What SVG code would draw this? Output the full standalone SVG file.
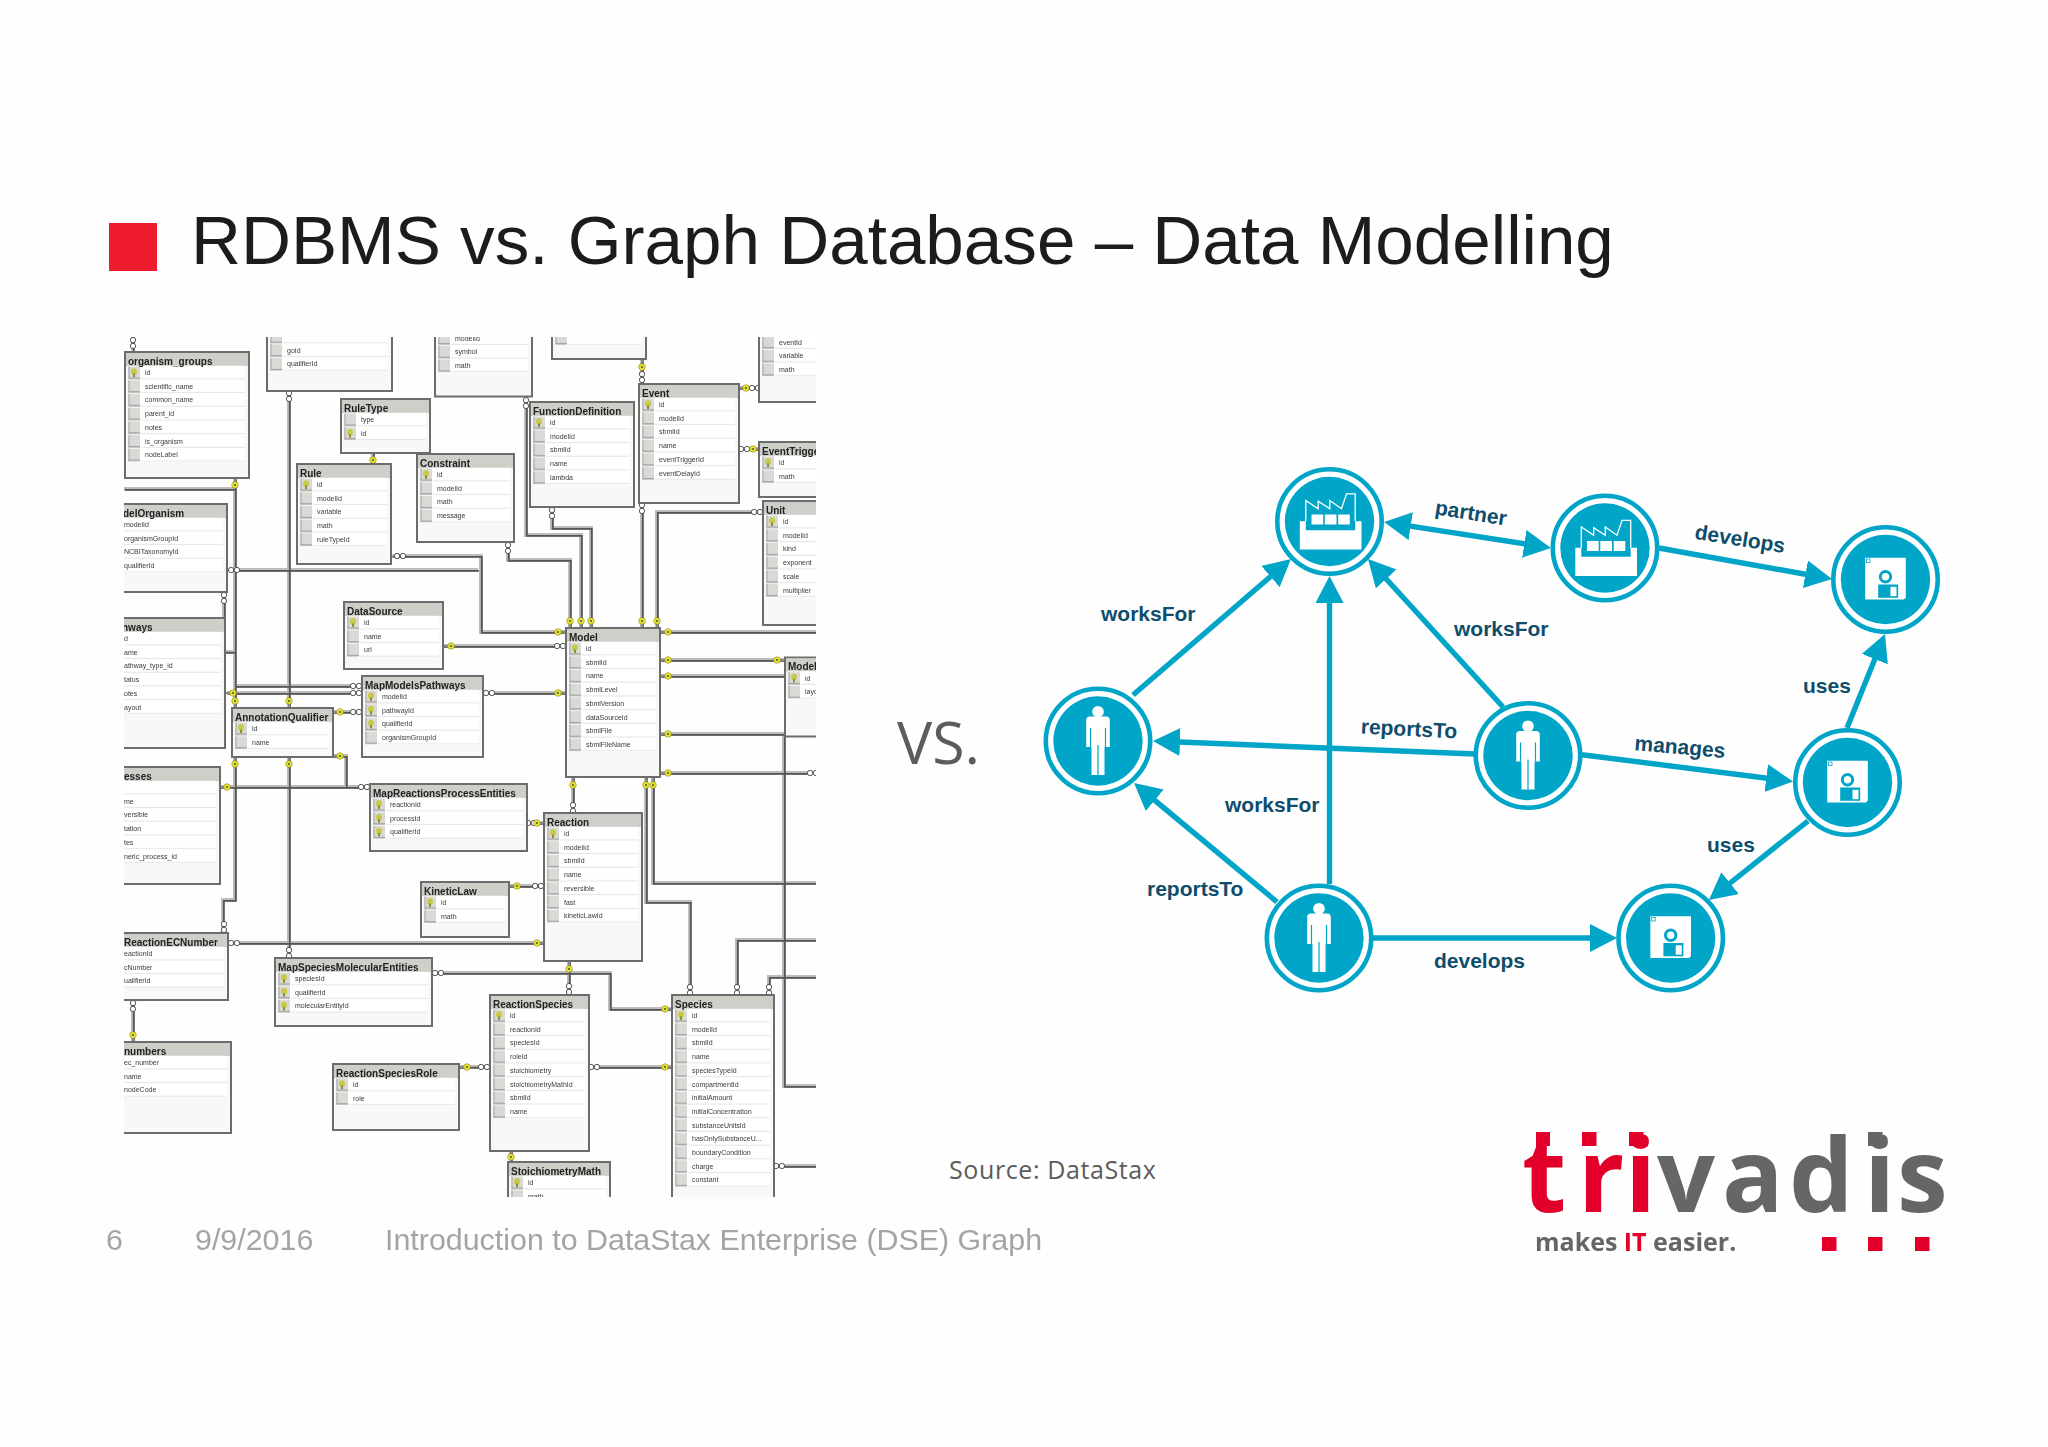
<svg xmlns="http://www.w3.org/2000/svg" width="2048" height="1447" viewBox="0 0 2048 1447">
<style>
text{font-family:"Liberation Sans",Arial,sans-serif}
.ttl{font-size:69.200px;fill:#1c1c1c}
.ft{font-size:30.400px;fill:#a4a4a4}
.os{font-family:"Open Sans",sans-serif;fill:#5c5c5c}
.f{fill:#f8f8f8;stroke:#6c6c6c;stroke-width:2}
.h{fill:#cfcfc9}
.t text{font-size:7px;fill:#3a3a3a}
.t text.tt{font-size:10px;font-weight:bold;fill:#222;transform:translate(0,.6px)}
.wl{fill:none;stroke:#bdbdbd;stroke-width:4}
.wd{fill:none;stroke:#555;stroke-width:1.8}
.e{fill:none;stroke:#00a5c8;stroke-width:5.4}
.ring{fill:#fff;stroke:#00a5c8;stroke-width:4.6}
.disc{fill:#00a5c8}
.lb{font-size:21px;font-weight:bold;fill:#0e4d6c}
.w{fill:#fff}
.gl{fill:none;stroke:#00a5c8}
</style>
<defs>
<clipPath id="er"><rect x="124" y="337" width="692" height="860"/></clipPath>
<filter id="soft" x="0" y="0" width="100%" height="100%"><feGaussianBlur stdDeviation=".35"/></filter>
<pattern id="rw" patternUnits="userSpaceOnUse" x="0" y="13.7" width="400" height="13.7">
<rect width="400" height="13.7" fill="#fff"/>
<rect x="16" y="12.6" width="384" height="1.1" fill="#e6e6e6"/>
<rect x="3.5" y=".7" width="11.5" height="12.3" fill="#d9d9d5"/>
<rect x="3.5" y="12.2" width="11.5" height=".9" fill="#777"/>
<rect x="3.5" y=".7" width=".9" height="12.3" fill="#999"/>
</pattern>
<g id="k"><ellipse cy="-1" rx="3" ry="3.2" fill="#c9c94a"/><rect x="-1" y="1" width="2" height="3.5" fill="#8f8f30"/></g>
<g id="ky"><path d="M-7 0H0" stroke="#888" stroke-width="2"/><circle r="3.3" fill="#e6e62e" stroke="#8a8a20" stroke-width=".6"/><circle r="1.1" fill="#555"/></g>
<g id="inf" fill="#fff" stroke="#444" stroke-width=".9"><circle cx="-2.9" r="2.7"/><circle cx="2.9" r="2.7"/></g>
<marker id="ah" markerUnits="userSpaceOnUse" markerWidth="28" markerHeight="28" refX="7" refY="14" orient="auto-start-reverse"><path d="M0 0L27 14L0 28Z" fill="#00a5c8"/></marker>
<g id="person"><circle cy="-29.3" r="5.8" class="w"/><path class="w" d="M-8-24.5H8Q11.8-24.5 11.8-21V6H6.5V34H-6.5V6H-11.8V-21Q-11.8-24.5-8-24.5Z"/><path class="gl" stroke-width="1.2" d="M-7.5-13V6M7.5-13V6M0 4V34"/></g>
<g id="factory"><path class="w" d="M-29.7-.3H-23.7V8.7H25.7V-.3H32V28H-29.7Z"/><path d="M-23.7-.3V-21L-11.3-12.7V-20.3L.3-12.7V-21L12-12.7L17-27.7H25.7V-.3" fill="none" stroke="#fff" stroke-width="1.3"/><path class="w" d="M-18-7H-6.300V3H-18ZM-4.700-7H7V3H-4.700ZM8.700-7H20.300V3H8.700Z"/></g>
<g id="disk"><path class="w" d="M-20.300-21.700H20.300V18L18.300 20H-20.300Z"/><rect x="-19" y="-20.500" width="3.500" height="3.500" fill="none" stroke="#00a5c8" stroke-width=".8"/><circle cy="-2.700" r="5.200" fill="none" stroke="#00a5c8" stroke-width="3"/><rect x="-7.300" y="5" width="20" height="13.300" fill="#00a5c8"/><rect x="5" y="7.300" width="6" height="9.400" class="w"/></g>
<g id="nd"><circle r="52.200" class="ring"/><circle r="44.700" class="disc"/></g>
</defs>
<rect id="bg" width="2048" height="1447" fill="#fefefe"/>
<rect x="109" y="223" width="48" height="48" fill="#ee1c2e"/>
<text class="ttl" x="191" y="264">RDBMS vs. Graph Database – Data Modelling</text>
<g clip-path="url(#er)"><g filter="url(#soft)">
<rect x="124" y="337" width="692" height="860" fill="#fefefe"/>
<g id="connectors">
<g class="wl"><g id="wires">
<path d="M133 337V352"/>
<path d="M124 489H235"/>
<path d="M235 478V708"/>
<path d="M235 757V900H223V933"/>
<path d="M289 391V708"/>
<path d="M289 757V958"/>
<path d="M238 570H478"/>
<path d="M392 556H481V632H566"/>
<path d="M235 686H352"/>
<path d="M227 693H352"/>
<path d="M225 652H235"/>
<path d="M333 712H362"/>
<path d="M224 592V618"/>
<path d="M373 453V464"/>
<path d="M443 646H566"/>
<path d="M484 693H566"/>
<path d="M508 542V560H570V628"/>
<path d="M526 397V535H581V628"/>
<path d="M552 507V528H591V628"/>
<path d="M642 503V628"/>
<path d="M763 512H657V628"/>
<path d="M642 359V384"/>
<path d="M739 388H759"/>
<path d="M739 449H759"/>
<path d="M660 632H816"/>
<path d="M660 660H785"/>
<path d="M660 676H785"/>
<path d="M660 734H816"/>
<path d="M660 773H810"/>
<path d="M573 777V813"/>
<path d="M646 777V902H690V995"/>
<path d="M653 777V883H816"/>
<path d="M784 736V1086H816"/>
<path d="M816 940H737V995"/>
<path d="M816 977H769V995"/>
<path d="M774 1166H816"/>
<path d="M527 823H544"/>
<path d="M509 886H544"/>
<path d="M228 943H544"/>
<path d="M569 961V995"/>
<path d="M432 973H610V1009H672"/>
<path d="M589 1067H672"/>
<path d="M459 1067H490"/>
<path d="M511 1151V1162"/>
<path d="M133 1000V1042"/>
<path d="M220 787H370"/>
<path d="M333 756H346V787"/>
</g></g>
<use href="#wires" class="wd" transform="translate(.8,.8)"/>
<g id="ends">
<use href="#inf" transform="translate(133,343) rotate(90)"/>
<use href="#ky" transform="translate(235,485) rotate(90)"/>
<use href="#ky" transform="translate(235,701) rotate(-90)"/>
<use href="#ky" transform="translate(235,764) rotate(90)"/>
<use href="#ky" transform="translate(289,701) rotate(-90)"/>
<use href="#ky" transform="translate(289,764) rotate(90)"/>
<use href="#inf" transform="translate(289,396) rotate(90)"/>
<use href="#inf" transform="translate(289,953) rotate(90)"/>
<use href="#inf" transform="translate(224,927) rotate(90)"/>
<use href="#inf" transform="translate(400,556)"/>
<use href="#inf" transform="translate(234,570)"/>
<use href="#inf" transform="translate(356,686)"/>
<use href="#inf" transform="translate(356,693)"/>
<use href="#inf" transform="translate(356,712)"/>
<use href="#ky" transform="translate(233,693)"/>
<use href="#ky" transform="translate(340,712)"/>
<use href="#inf" transform="translate(224,598) rotate(90)"/>
<use href="#ky" transform="translate(373,460) rotate(-90)"/>
<use href="#ky" transform="translate(451,646)"/>
<use href="#inf" transform="translate(560,646)"/>
<use href="#inf" transform="translate(489,693)"/>
<use href="#ky" transform="translate(558,693) rotate(180)"/>
<use href="#ky" transform="translate(558,632) rotate(180)"/>
<use href="#inf" transform="translate(508,548) rotate(90)"/>
<use href="#inf" transform="translate(526,403) rotate(90)"/>
<use href="#inf" transform="translate(552,513) rotate(90)"/>
<use href="#inf" transform="translate(642,508) rotate(90)"/>
<use href="#inf" transform="translate(757,512)"/>
<use href="#ky" transform="translate(570,621) rotate(-90)"/>
<use href="#ky" transform="translate(581,621) rotate(-90)"/>
<use href="#ky" transform="translate(591,621) rotate(-90)"/>
<use href="#ky" transform="translate(642,621) rotate(-90)"/>
<use href="#ky" transform="translate(657,621) rotate(-90)"/>
<use href="#ky" transform="translate(642,367) rotate(90)"/>
<use href="#inf" transform="translate(642,377) rotate(90)"/>
<use href="#ky" transform="translate(746,388)"/>
<use href="#inf" transform="translate(755,388)"/>
<use href="#inf" transform="translate(744,449)"/>
<use href="#ky" transform="translate(753,449) rotate(180)"/>
<use href="#ky" transform="translate(668,632)"/>
<use href="#ky" transform="translate(668,660)"/>
<use href="#ky" transform="translate(777,660) rotate(180)"/>
<use href="#ky" transform="translate(668,676)"/>
<use href="#ky" transform="translate(668,734)"/>
<use href="#ky" transform="translate(668,773)"/>
<use href="#inf" transform="translate(813,773)"/>
<use href="#ky" transform="translate(573,785) rotate(90)"/>
<use href="#inf" transform="translate(573,808) rotate(90)"/>
<use href="#ky" transform="translate(646,785) rotate(90)"/>
<use href="#ky" transform="translate(653,785) rotate(90)"/>
<use href="#inf" transform="translate(690,990) rotate(90)"/>
<use href="#inf" transform="translate(737,990) rotate(90)"/>
<use href="#inf" transform="translate(769,990) rotate(90)"/>
<use href="#inf" transform="translate(779,1166)"/>
<use href="#inf" transform="translate(531,823)"/>
<use href="#ky" transform="translate(537,823) rotate(180)"/>
<use href="#ky" transform="translate(517,886)"/>
<use href="#inf" transform="translate(538,886)"/>
<use href="#ky" transform="translate(537,943) rotate(180)"/>
<use href="#inf" transform="translate(234,943)"/>
<use href="#ky" transform="translate(569,969) rotate(90)"/>
<use href="#inf" transform="translate(569,989) rotate(90)"/>
<use href="#inf" transform="translate(438,973)"/>
<use href="#ky" transform="translate(665,1009) rotate(180)"/>
<use href="#inf" transform="translate(594,1067)"/>
<use href="#ky" transform="translate(665,1067) rotate(180)"/>
<use href="#inf" transform="translate(484,1067)"/>
<use href="#ky" transform="translate(467,1067)"/>
<use href="#ky" transform="translate(511,1157) rotate(90)"/>
<use href="#inf" transform="translate(133,1006) rotate(90)"/>
<use href="#ky" transform="translate(133,1035) rotate(-90)"/>
<use href="#ky" transform="translate(227,787)"/>
<use href="#inf" transform="translate(364,787)"/>
<use href="#ky" transform="translate(340,756)"/>
</g>
</g>
<g class="t">
<g id="organism_groups" transform="translate(125,352)"><rect class="f" width="124" height="126"/><rect class="h" x="1" y="1" width="122" height="13"/><rect x="3" y="13.700" width="117" height="95.900" fill="url(#rw)"/><text class="tt" x="3" y="12">organism_groups</text><use href="#k" x="9" y="20.500"/><text x="20" y="23">id</text><text x="20" y="36.700">scientific_name</text><text x="20" y="50.400">common_name</text><text x="20" y="64.100">parent_id</text><text x="20" y="77.800">notes</text><text x="20" y="91.500">is_organism</text><text x="20" y="105.200">nodeLabel</text></g>
<g id="goTable" transform="translate(267,316)"><rect class="f" width="125" height="75"/><rect x="3" y="13.700" width="118" height="41.100" fill="url(#rw)"/><text x="20" y="36.700">goId</text><text x="20" y="50.400">qualifierId</text></g>
<g id="symbolTable" transform="translate(435,317.500)"><rect class="f" width="97" height="79"/><rect x="3" y="13.700" width="90" height="41.100" fill="url(#rw)"/><text x="20" y="23">modelId</text><text x="20" y="36.700">symbol</text><text x="20" y="50.400">math</text></g>
<g id="RuleType" transform="translate(341,399)"><rect class="f" width="89" height="54"/><rect class="h" x="1" y="1" width="87" height="13"/><rect x="3" y="13.700" width="82" height="27.400" fill="url(#rw)"/><text class="tt" x="3" y="12">RuleType</text><text x="20" y="23">type</text><use href="#k" x="9" y="34.200"/><text x="20" y="36.700">id</text></g>
<g id="Rule" transform="translate(297,464)"><rect class="f" width="94" height="100"/><rect class="h" x="1" y="1" width="92" height="13"/><rect x="3" y="13.700" width="87" height="68.500" fill="url(#rw)"/><text class="tt" x="3" y="12">Rule</text><use href="#k" x="9" y="20.500"/><text x="20" y="23">id</text><text x="20" y="36.700">modelId</text><text x="20" y="50.400">variable</text><text x="20" y="64.100">math</text><text x="20" y="77.800">ruleTypeId</text></g>
<g id="Constraint" transform="translate(417,454)"><rect class="f" width="97" height="88"/><rect class="h" x="1" y="1" width="95" height="13"/><rect x="3" y="13.700" width="90" height="54.800" fill="url(#rw)"/><text class="tt" x="3" y="12">Constraint</text><use href="#k" x="9" y="20.500"/><text x="20" y="23">id</text><text x="20" y="36.700">modelId</text><text x="20" y="50.400">math</text><text x="20" y="64.100">message</text></g>
<g id="FunctionDefinition" transform="translate(530,402)"><rect class="f" width="104" height="105"/><rect class="h" x="1" y="1" width="102" height="13"/><rect x="3" y="13.700" width="97" height="68.500" fill="url(#rw)"/><text class="tt" x="3" y="12">FunctionDefinition</text><use href="#k" x="9" y="20.500"/><text x="20" y="23">id</text><text x="20" y="36.700">modelId</text><text x="20" y="50.400">sbmlId</text><text x="20" y="64.100">name</text><text x="20" y="77.800">lambda</text></g>
<g id="topMid" transform="translate(552,317.500)"><rect class="f" width="94" height="41.500"/><rect x="3" y="13.700" width="87" height="13.700" fill="url(#rw)"/></g>
<g id="Event" transform="translate(639,384)"><rect class="f" width="100" height="119"/><rect class="h" x="1" y="1" width="98" height="13"/><rect x="3" y="13.700" width="93" height="82.200" fill="url(#rw)"/><text class="tt" x="3" y="12">Event</text><use href="#k" x="9" y="20.500"/><text x="20" y="23">id</text><text x="20" y="36.700">modelId</text><text x="20" y="50.400">sbmlId</text><text x="20" y="64.100">name</text><text x="20" y="77.800">eventTriggerId</text><text x="20" y="91.500">eventDelayId</text></g>
<g id="topRight" transform="translate(759,321.500)"><rect class="f" width="80" height="80.500"/><rect x="3" y="13.700" width="80" height="41.100" fill="url(#rw)"/><text x="20" y="23">eventId</text><text x="20" y="36.700">variable</text><text x="20" y="50.400">math</text></g>
<g id="EventTrigger" transform="translate(759,442)"><rect class="f" width="80" height="55"/><rect class="h" x="1" y="1" width="78" height="13"/><rect x="3" y="13.700" width="80" height="27.400" fill="url(#rw)"/><text class="tt" x="3" y="12">EventTrigge</text><use href="#k" x="9" y="20.500"/><text x="20" y="23">id</text><text x="20" y="36.700">math</text></g>
<g id="Unit" transform="translate(763,501)"><rect class="f" width="80" height="124"/><rect class="h" x="1" y="1" width="78" height="13"/><rect x="3" y="13.700" width="80" height="82.200" fill="url(#rw)"/><text class="tt" x="3" y="12">Unit</text><use href="#k" x="9" y="20.500"/><text x="20" y="23">id</text><text x="20" y="36.700">modelId</text><text x="20" y="50.400">kind</text><text x="20" y="64.100">exponent</text><text x="20" y="77.800">scale</text><text x="20" y="91.500">multiplier</text></g>
<g id="Model" transform="translate(566,628)"><rect class="f" width="94" height="149"/><rect class="h" x="1" y="1" width="92" height="13"/><rect x="3" y="13.700" width="87" height="109.600" fill="url(#rw)"/><text class="tt" x="3" y="12">Model</text><use href="#k" x="9" y="20.500"/><text x="20" y="23">id</text><text x="20" y="36.700">sbmlId</text><text x="20" y="50.400">name</text><text x="20" y="64.100">sbmlLevel</text><text x="20" y="77.800">sbmlVersion</text><text x="20" y="91.500">dataSourceId</text><text x="20" y="105.200">sbmlFile</text><text x="20" y="118.900">sbmlFileName</text></g>
<g id="ModelLayout" transform="translate(785,657.500)"><rect class="f" width="60" height="79"/><rect class="h" x="1" y="1" width="58" height="13"/><rect x="3" y="13.700" width="60" height="27.400" fill="url(#rw)"/><text class="tt" x="3" y="12">Model</text><use href="#k" x="9" y="20.500"/><text x="20" y="23">id</text><text x="20" y="36.700">layo</text></g>
<g id="DataSource" transform="translate(344,602)"><rect class="f" width="99" height="67"/><rect class="h" x="1" y="1" width="97" height="13"/><rect x="3" y="13.700" width="92" height="41.100" fill="url(#rw)"/><text class="tt" x="3" y="12">DataSource</text><use href="#k" x="9" y="20.500"/><text x="20" y="23">id</text><text x="20" y="36.700">name</text><text x="20" y="50.400">url</text></g>
<g id="AnnotationQualifier" transform="translate(232,708)"><rect class="f" width="101" height="49"/><rect class="h" x="1" y="1" width="99" height="13"/><rect x="3" y="13.700" width="94" height="27.400" fill="url(#rw)"/><text class="tt" x="3" y="12">AnnotationQualifier</text><use href="#k" x="9" y="20.500"/><text x="20" y="23">id</text><text x="20" y="36.700">name</text></g>
<g id="MapModelsPathways" transform="translate(362,676)"><rect class="f" width="121" height="81"/><rect class="h" x="1" y="1" width="119" height="13"/><rect x="3" y="13.700" width="114" height="54.800" fill="url(#rw)"/><text class="tt" x="3" y="12">MapModelsPathways</text><use href="#k" x="9" y="20.500"/><use href="#k" x="9" y="34.200"/><use href="#k" x="9" y="47.900"/><text x="20" y="23">modelId</text><text x="20" y="36.700">pathwayId</text><text x="20" y="50.400">qualifierId</text><text x="20" y="64.100">organismGroupId</text></g>
<g id="ModelOrganism" transform="translate(104,504)"><rect class="f" width="123" height="88"/><rect class="h" x="1" y="1" width="121" height="13"/><rect x="3" y="13.700" width="116" height="54.800" fill="url(#rw)"/><text class="tt" x="19" y="12">delOrganism</text><text x="20" y="23">modelId</text><text x="20" y="36.700">organismGroupId</text><text x="20" y="50.400">NCBITaxonomyId</text><text x="20" y="64.100">qualifierId</text></g>
<g id="Pathways" transform="translate(104,618)"><rect class="f" width="121" height="130"/><rect class="h" x="1" y="1" width="119" height="13"/><rect x="3" y="13.700" width="114" height="82.200" fill="url(#rw)"/><text class="tt" x="18" y="12">hways</text><text x="20" y="23">d</text><text x="20" y="36.700">ame</text><text x="20" y="50.400">athway_type_id</text><text x="20" y="64.100">tatus</text><text x="20" y="77.800">otes</text><text x="20" y="91.500">ayout</text></g>
<g id="Processes" transform="translate(104,767)"><rect class="f" width="116" height="117"/><rect class="h" x="1" y="1" width="114" height="13"/><rect x="3" y="13.700" width="109" height="82.200" fill="url(#rw)"/><text class="tt" x="20" y="12">esses</text><text x="20" y="36.700">me</text><text x="20" y="50.400">versible</text><text x="20" y="64.100">tation</text><text x="20" y="77.800">tes</text><text x="20" y="91.500">neric_process_id</text></g>
<g id="MapReactionsProcessEntities" transform="translate(370,784)"><rect class="f" width="157" height="67"/><rect class="h" x="1" y="1" width="155" height="13"/><rect x="3" y="13.700" width="150" height="41.100" fill="url(#rw)"/><text class="tt" x="3" y="12">MapReactionsProcessEntities</text><use href="#k" x="9" y="20.500"/><use href="#k" x="9" y="34.200"/><use href="#k" x="9" y="47.900"/><text x="20" y="23">reactionId</text><text x="20" y="36.700">processId</text><text x="20" y="50.400">qualifierId</text></g>
<g id="KineticLaw" transform="translate(421,882)"><rect class="f" width="88" height="55"/><rect class="h" x="1" y="1" width="86" height="13"/><rect x="3" y="13.700" width="81" height="27.400" fill="url(#rw)"/><text class="tt" x="3" y="12">KineticLaw</text><use href="#k" x="9" y="20.500"/><text x="20" y="23">id</text><text x="20" y="36.700">math</text></g>
<g id="Reaction" transform="translate(544,813)"><rect class="f" width="98" height="148"/><rect class="h" x="1" y="1" width="96" height="13"/><rect x="3" y="13.700" width="91" height="95.900" fill="url(#rw)"/><text class="tt" x="3" y="12">Reaction</text><use href="#k" x="9" y="20.500"/><text x="20" y="23">id</text><text x="20" y="36.700">modelId</text><text x="20" y="50.400">sbmlId</text><text x="20" y="64.100">name</text><text x="20" y="77.800">reversible</text><text x="20" y="91.500">fast</text><text x="20" y="105.200">kineticLawId</text></g>
<g id="ReactionECNumber" transform="translate(104,933)"><rect class="f" width="124" height="67"/><rect class="h" x="1" y="1" width="122" height="13"/><rect x="3" y="13.700" width="117" height="41.100" fill="url(#rw)"/><text class="tt" x="20" y="12">ReactionECNumber</text><text x="20" y="23">eactionId</text><text x="20" y="36.700">cNumber</text><text x="20" y="50.400">ualifierId</text></g>
<g id="numbers" transform="translate(104,1042)"><rect class="f" width="127" height="91"/><rect class="h" x="1" y="1" width="125" height="13"/><rect x="3" y="13.700" width="120" height="41.100" fill="url(#rw)"/><text class="tt" x="20" y="12">numbers</text><text x="20" y="23">ec_number</text><text x="20" y="36.700">name</text><text x="20" y="50.400">nodeCode</text></g>
<g id="MapSpeciesMolecularEntities" transform="translate(275,958)"><rect class="f" width="157" height="68"/><rect class="h" x="1" y="1" width="155" height="13"/><rect x="3" y="13.700" width="150" height="41.100" fill="url(#rw)"/><text class="tt" x="3" y="12">MapSpeciesMolecularEntities</text><use href="#k" x="9" y="20.500"/><use href="#k" x="9" y="34.200"/><use href="#k" x="9" y="47.900"/><text x="20" y="23">speciesId</text><text x="20" y="36.700">qualifierId</text><text x="20" y="50.400">molecularEntityId</text></g>
<g id="ReactionSpeciesRole" transform="translate(333,1064)"><rect class="f" width="126" height="66"/><rect class="h" x="1" y="1" width="124" height="13"/><rect x="3" y="13.700" width="119" height="27.400" fill="url(#rw)"/><text class="tt" x="3" y="12">ReactionSpeciesRole</text><use href="#k" x="9" y="20.500"/><text x="20" y="23">id</text><text x="20" y="36.700">role</text></g>
<g id="ReactionSpecies" transform="translate(490,995)"><rect class="f" width="99" height="156"/><rect class="h" x="1" y="1" width="97" height="13"/><rect x="3" y="13.700" width="92" height="109.600" fill="url(#rw)"/><text class="tt" x="3" y="12">ReactionSpecies</text><use href="#k" x="9" y="20.500"/><text x="20" y="23">id</text><text x="20" y="36.700">reactionId</text><text x="20" y="50.400">speciesId</text><text x="20" y="64.100">roleId</text><text x="20" y="77.800">stoichiometry</text><text x="20" y="91.500">stoichiometryMathId</text><text x="20" y="105.200">sbmlId</text><text x="20" y="118.900">name</text></g>
<g id="StoichiometryMath" transform="translate(508,1162)"><rect class="f" width="102" height="60"/><rect class="h" x="1" y="1" width="100" height="13"/><rect x="3" y="13.700" width="95" height="27.400" fill="url(#rw)"/><text class="tt" x="3" y="12">StoichiometryMath</text><use href="#k" x="9" y="20.500"/><text x="20" y="23">id</text><text x="20" y="36.700">math</text></g>
<g id="Species" transform="translate(672,995)"><rect class="f" width="102" height="230"/><rect class="h" x="1" y="1" width="100" height="13"/><rect x="3" y="13.700" width="95" height="178.100" fill="url(#rw)"/><text class="tt" x="3" y="12">Species</text><use href="#k" x="9" y="20.500"/><text x="20" y="23">id</text><text x="20" y="36.700">modelId</text><text x="20" y="50.400">sbmlId</text><text x="20" y="64.100">name</text><text x="20" y="77.800">speciesTypeId</text><text x="20" y="91.500">compartmentId</text><text x="20" y="105.200">initialAmount</text><text x="20" y="118.900">initialConcentration</text><text x="20" y="132.600">substanceUnitsId</text><text x="20" y="146.300">hasOnlySubstanceU...</text><text x="20" y="160">boundaryCondition</text><text x="20" y="173.700">charge</text><text x="20" y="187.400">constant</text></g>
</g>
</g></g>
<text class="os" x="897" y="764" font-size="59">VS.</text>
<text class="os" x="949" y="1179" font-size="25" letter-spacing=".6">Source: DataStax</text>
<g id="graph-edges">
<path class="e" marker-end="url(#ah)" d="M1133 695L1275.800 572"/>
<path class="e" marker-end="url(#ah)" d="M1329.500 884V596"/>
<path class="e" marker-end="url(#ah)" d="M1503 707L1381.500 573.800"/>
<path class="e" marker-start="url(#ah)" marker-end="url(#ah)" d="M1403.800 525.100L1531.200 544.900"/>
<path class="e" marker-end="url(#ah)" d="M1475 754L1173 741.800"/>
<path class="e" marker-end="url(#ah)" d="M1277 902L1149.400 795.800"/>
<path class="e" marker-end="url(#ah)" d="M1659 548L1812.300 575.500"/>
<path class="e" marker-end="url(#ah)" d="M1582 754.700L1773.200 779"/>
<path class="e" marker-end="url(#ah)" d="M1847 728L1877.500 652.600"/>
<path class="e" marker-end="url(#ah)" d="M1808 821L1724.600 887.500"/>
<path class="e" marker-end="url(#ah)" d="M1373 938H1597"/>
</g>
<g id="edge-labels" class="lb">
<text class="lb" x="1101" y="621">worksFor</text>
<text class="lb" text-anchor="middle" transform="translate(1471,513) rotate(9)" y="7">partner</text>
<text class="lb" x="1454" y="636">worksFor</text>
<text class="lb" text-anchor="middle" transform="translate(1409,729) rotate(3)" y="7">reportsTo</text>
<text class="lb" x="1225" y="812">worksFor</text>
<text class="lb" x="1147" y="896">reportsTo</text>
<text class="lb" x="1434" y="968">develops</text>
<text class="lb" text-anchor="middle" transform="translate(1740,539) rotate(9)" y="7">develops</text>
<text class="lb" text-anchor="middle" transform="translate(1680,747) rotate(5)" y="7">manages</text>
<text class="lb" x="1803" y="693">uses</text>
<text class="lb" x="1707" y="852">uses</text>
</g>
<g id="n-factory1" transform="translate(1329.500,521.500)"><use href="#nd"/><use href="#factory"/></g>
<g id="n-factory2" transform="translate(1605,548)"><use href="#nd"/><use href="#factory"/></g>
<g id="n-person1" transform="translate(1098,741)"><use href="#nd"/><use href="#person"/></g>
<g id="n-person2" transform="translate(1528,755.500)"><use href="#nd"/><use href="#person"/></g>
<g id="n-person3" transform="translate(1319,938)"><use href="#nd"/><use href="#person"/></g>
<g id="n-disk1" transform="translate(1885.500,579.500)"><use href="#nd"/><use href="#disk"/></g>
<g id="n-disk2" transform="translate(1847.500,782.500)"><use href="#nd"/><use href="#disk"/></g>
<g id="n-disk3" transform="translate(1670.700,938)"><use href="#nd"/><use href="#disk"/></g>
<g id="logo">
<text x="1522 1578 1625 1657 1722 1789 1864 1897" y="1212" font-size="102" font-weight="700" style="font-family:'Open Sans',sans-serif" fill="#666"><tspan fill="#e2002a">tri</tspan>vadis</text>
<path fill="#e2002a" d="M1536 1132h14v14h-14zM1582 1132h14.500v14h-14.500zM1629 1132h14.500v14h-14.500zM1822 1237h14.500v14h-14.500zM1868 1237h14.500v14h-14.500zM1915 1237h14.500v14h-14.500z"/>
<rect x="1868" y="1132" width="14.500" height="14" fill="#666"/>
<text x="1535" y="1251" font-size="25" font-weight="700" style="font-family:'Open Sans',sans-serif" fill="#666">makes <tspan fill="#e2002a">IT</tspan> easier.</text>
</g>
<g id="footer">
<text class="ft" x="106" y="1250">6</text>
<text class="ft" x="195" y="1250">9/9/2016</text>
<text class="ft" x="385" y="1250">Introduction to DataStax Enterprise (DSE) Graph</text>
</g>
</svg>
